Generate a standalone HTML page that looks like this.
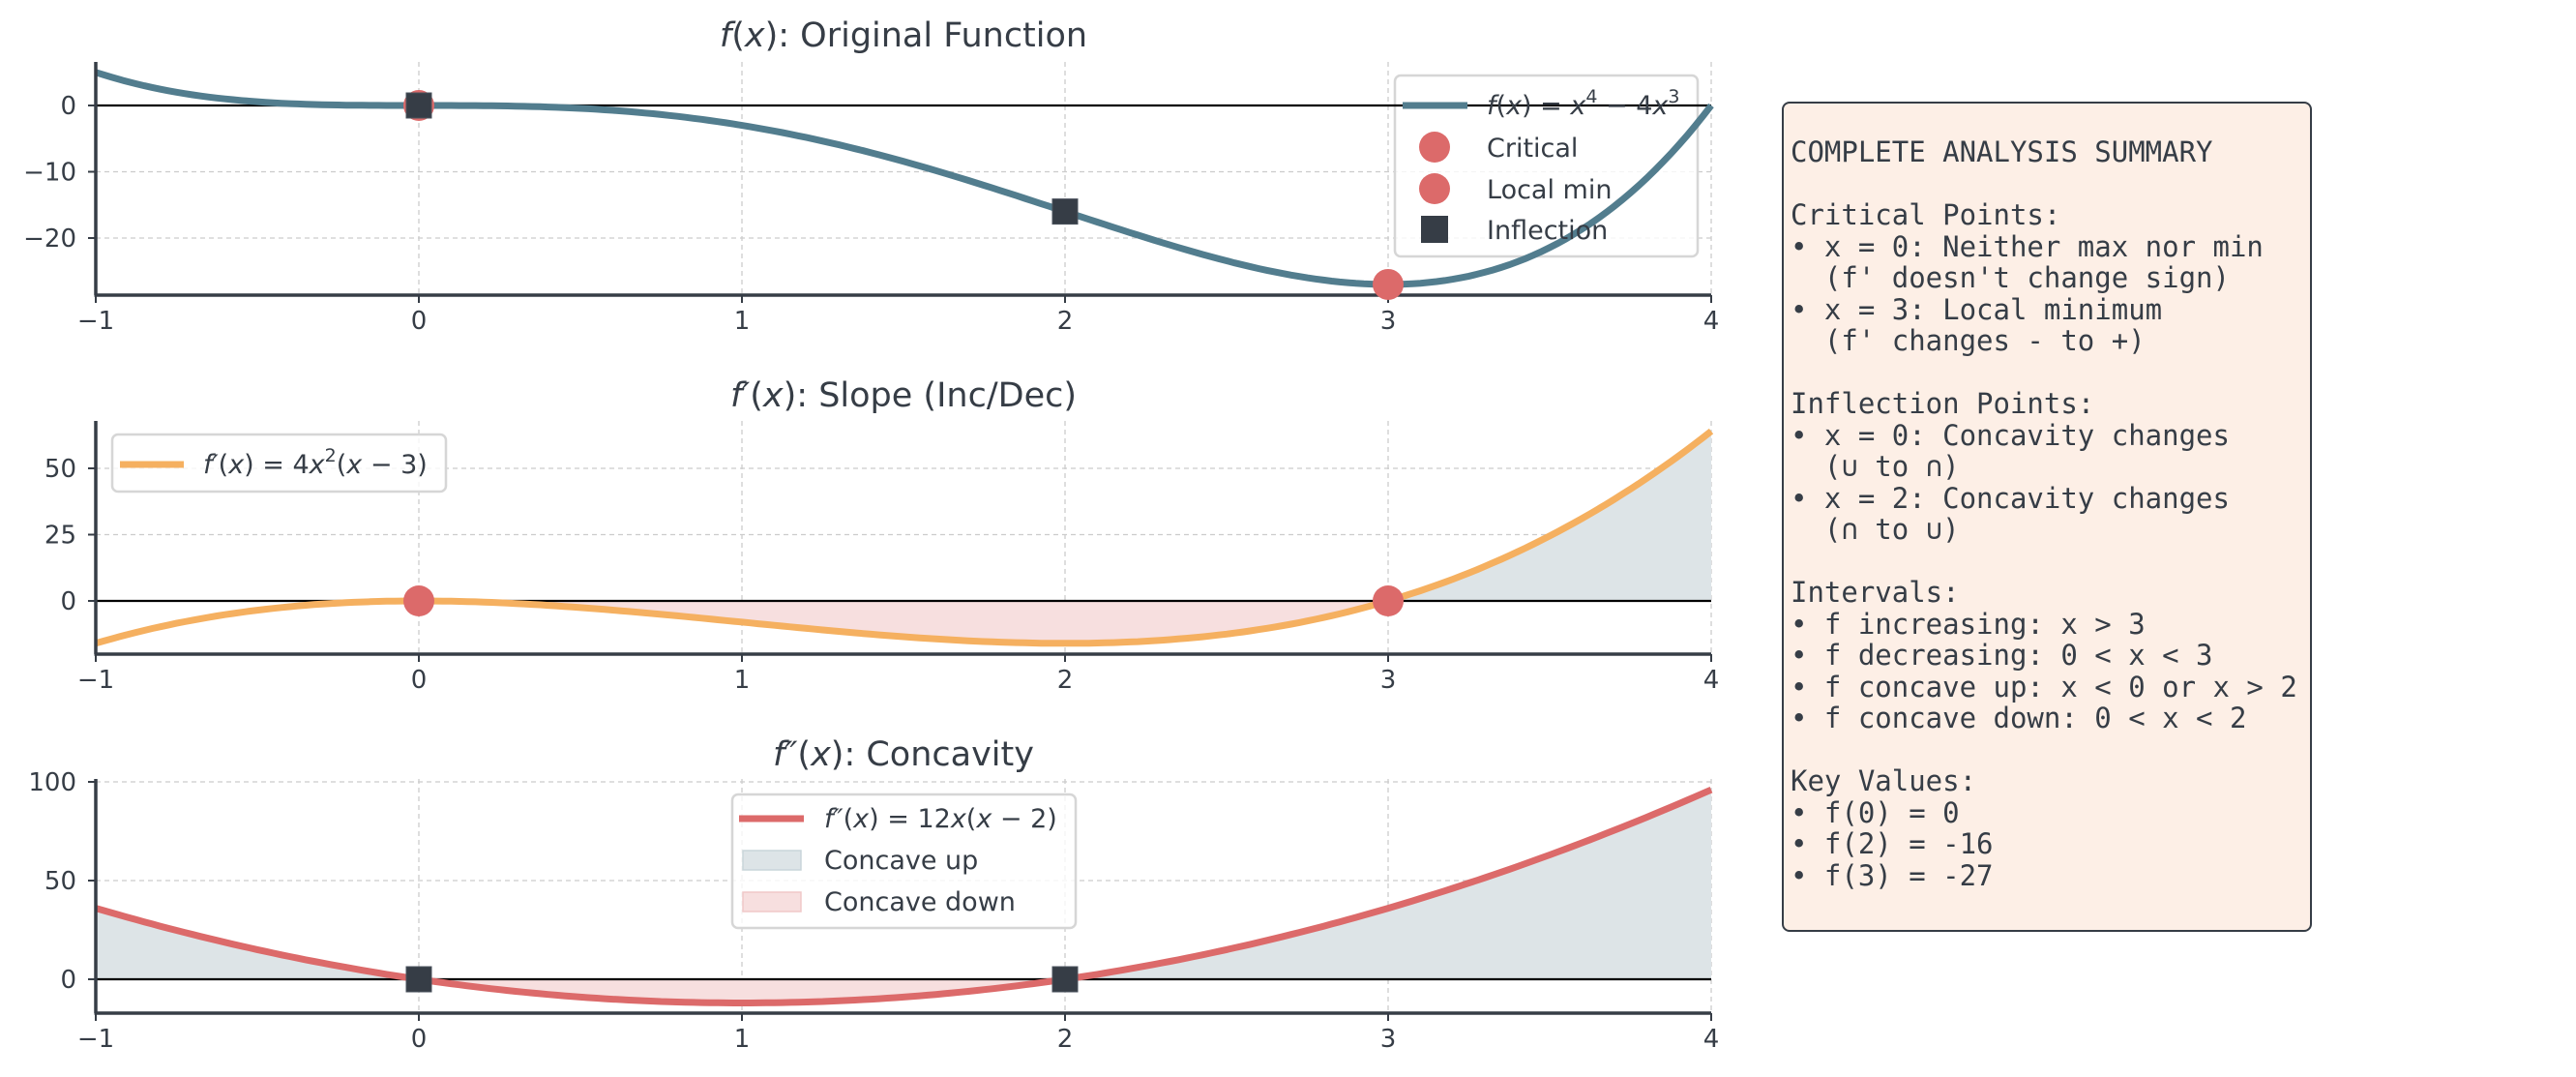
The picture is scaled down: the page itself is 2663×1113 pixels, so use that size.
<!DOCTYPE html>
<html><head><meta charset="utf-8">
<style>
html,body{margin:0;padding:0;background:#fff;}
svg{display:block;font-family:"DejaVu Sans","Liberation Sans",sans-serif;}
.t{fill:#363d46;font-size:26px;}
.ti{fill:#363d46;font-size:35px;}
.lg{fill:#363d46;font-size:27px;}
#sum{position:absolute;left:1842px;top:105px;width:548px;height:858px;background:#fdefe6;border:2.5px solid #363d46;border-radius:8px;box-sizing:border-box;}
#sum pre{margin:0;position:absolute;left:7px;top:34px;font-family:"DejaVu Sans Mono","Liberation Mono",monospace;font-size:29px;line-height:32.5px;color:#363d46;}
</style></head>
<body>
<div style="position:relative;width:2663px;height:1113px;overflow:hidden;">
<svg id="s" width="2663" height="1113" xmlns="http://www.w3.org/2000/svg"></svg>
<div id="sum"><pre>
COMPLETE ANALYSIS SUMMARY

Critical Points:
• x = 0: Neither max nor min
  (f' doesn't change sign)
• x = 3: Local minimum
  (f' changes - to +)

Inflection Points:
• x = 0: Concavity changes
  (∪ to ∩)
• x = 2: Concavity changes
  (∩ to ∪)

Intervals:
• f increasing: x &gt; 3
• f decreasing: 0 &lt; x &lt; 3
• f concave up: x &lt; 0 or x &gt; 2
• f concave down: 0 &lt; x &lt; 2

Key Values:
• f(0) = 0
• f(2) = -16
• f(3) = -27</pre></div>
</div>
<script>
const S=document.getElementById('s');
let h='';
const X=x=>433+334*x;
const L=99,R=1769;
const panels=[
 {f:x=>x**4-4*x**3,y0:109,k:6.85,top:64,bot:305,ticks:[0,-10,-20],col:'#527d8e'},
 {f:x=>4*x*x*(x-3),y0:621,k:2.74,top:435,bot:676,ticks:[0,25,50],col:'#f5b060'},
 {f:x=>12*x*(x-2),y0:1012,k:2.04,top:805,bot:1047,ticks:[0,50,100],col:'#dc6a6a'}
];
function pts(p,a,b){let s=[];for(let i=0;i<=200;i++){let x=a+(b-a)*i/200;s.push(X(x).toFixed(1)+','+(p.y0-p.k*p.f(x)).toFixed(1));}return s;}
function fill(p,a,b,c){let s=pts(p,a,b);h+=`<polygon points="${X(a)},${p.y0} ${s.join(' ')} ${X(b)},${p.y0}" fill="${c}"/>`;}
const BL='#dde4e7',PK='#f7dfdf';
const legTop=`<rect x="1442" y="78" width="313" height="187" rx="6" fill="#fff" fill-opacity="0.8" stroke="#d6d6d6" stroke-width="2.5"/>`;
panels.forEach((p,i)=>{
 for(let x=-1;x<=4;x++)h+=`<line x1="${X(x)}" y1="${p.top}" x2="${X(x)}" y2="${p.bot}" stroke="#ccc" stroke-width="1.3" stroke-dasharray="5,4"/>`;
 p.ticks.forEach(t=>{let y=p.y0-p.k*t;h+=`<line x1="${L}" y1="${y}" x2="${R}" y2="${y}" stroke="#ccc" stroke-width="1.3" stroke-dasharray="5,4"/>`;
  h+=`<line x1="${L-8}" y1="${y}" x2="${L}" y2="${y}" stroke="#363d46" stroke-width="2"/>`;
  h+=`<text class="t" x="${L-20}" y="${y+9}" text-anchor="end">${t<0?'−'+(-t):t}</text>`;});
 if(i==0)h+=legTop;
 if(i==1){fill(p,0,3,PK);fill(p,3,4,BL);}
 if(i==2){fill(p,-1,0,BL);fill(p,0,2,PK);fill(p,2,4,BL);}
 h+=`<line x1="${L}" y1="${p.y0}" x2="${R}" y2="${p.y0}" stroke="#000" stroke-width="2.2"/>`;
 h+=`<polyline points="${pts(p,-1,4).join(' ')}" fill="none" stroke="${p.col}" stroke-width="7"/>`;
 h+=`<line x1="${L}" y1="${p.top}" x2="${L}" y2="${p.bot}" stroke="#363d46" stroke-width="3.5"/>`;
 h+=`<line x1="${L-1.5}" y1="${p.bot}" x2="${R}" y2="${p.bot}" stroke="#363d46" stroke-width="3.5"/>`;
 for(let x=-1;x<=4;x++){h+=`<line x1="${X(x)}" y1="${p.bot}" x2="${X(x)}" y2="${p.bot+8}" stroke="#363d46" stroke-width="2"/>`;
  h+=`<text class="t" x="${X(x)}" y="${p.bot+35}" text-anchor="middle">${x<0?'−1':x}</text>`;}
});
const circ=(x,y)=>`<circle cx="${x}" cy="${y}" r="16" fill="#dc6a6a"/>`;
const sq=(x,y)=>`<rect x="${x-13}" y="${y-13}" width="26" height="26" fill="#363d46" stroke="#4a525c" stroke-width="1"/>`;
let p=panels[0];
h+=circ(X(0),p.y0)+sq(X(0),p.y0)+sq(X(2),p.y0+16*p.k)+circ(X(3),p.y0+27*p.k);
p=panels[1];h+=circ(X(0),p.y0)+circ(X(3),p.y0);
p=panels[2];h+=sq(X(0),p.y0)+sq(X(2),p.y0);
h+=`<text class="ti" x="934" y="48" text-anchor="middle"><tspan font-style="italic">f</tspan>(<tspan font-style="italic">x</tspan>): Original Function</text>`;
h+=`<text class="ti" x="934" y="420" text-anchor="middle"><tspan font-style="italic">f′</tspan>(<tspan font-style="italic">x</tspan>): Slope (Inc/Dec)</text>`;
h+=`<text class="ti" x="934" y="791" text-anchor="middle"><tspan font-style="italic">f″</tspan>(<tspan font-style="italic">x</tspan>): Concavity</text>`;
h+=`<line x1="1450" y1="109" x2="1517" y2="109" stroke="#527d8e" stroke-width="7"/>`;
h+=`<text class="lg" x="1537" y="118"><tspan font-style="italic">f</tspan>(<tspan font-style="italic">x</tspan>) = <tspan font-style="italic">x</tspan><tspan font-size="19" dy="-12">4</tspan><tspan dy="12"> − 4</tspan><tspan font-style="italic">x</tspan><tspan font-size="19" dy="-12">3</tspan></text>`;
h+=circ(1483,152)+`<text class="lg" x="1537" y="162">Critical</text>`;
h+=circ(1483,195)+`<text class="lg" x="1537" y="205">Local min</text>`;
h+=`<rect x="1469" y="223" width="28" height="28" fill="#363d46"/><text class="lg" x="1537" y="247">Inflection</text>`;
h+=`<rect x="116" y="449" width="345" height="59" rx="6" fill="#fff" fill-opacity="0.8" stroke="#d6d6d6" stroke-width="2.5"/>`;
h+=`<line x1="124" y1="480" x2="190" y2="480" stroke="#f5b060" stroke-width="7"/>`;
h+=`<text class="lg" x="210" y="489"><tspan font-style="italic">f′</tspan>(<tspan font-style="italic">x</tspan>) = 4<tspan font-style="italic">x</tspan><tspan font-size="19" dy="-12">2</tspan><tspan dy="12">(</tspan><tspan font-style="italic">x</tspan> − 3)</text>`;
h+=`<rect x="757" y="821" width="355" height="138" rx="6" fill="#fff" fill-opacity="0.8" stroke="#d6d6d6" stroke-width="2.5"/>`;
h+=`<line x1="764" y1="846" x2="831" y2="846" stroke="#dc6a6a" stroke-width="7"/>`;
h+=`<text class="lg" x="852" y="855"><tspan font-style="italic">f″</tspan>(<tspan font-style="italic">x</tspan>) = 12<tspan font-style="italic">x</tspan>(<tspan font-style="italic">x</tspan> − 2)</text>`;
h+=`<rect x="768" y="879" width="60" height="20" fill="${BL}" stroke="#c9d5da" stroke-width="1.5"/><text class="lg" x="852" y="898">Concave up</text>`;
h+=`<rect x="768" y="922" width="60" height="20" fill="${PK}" stroke="#f0c8c8" stroke-width="1.5"/><text class="lg" x="852" y="941">Concave down</text>`;
S.innerHTML=h;
</script>
</body></html>
